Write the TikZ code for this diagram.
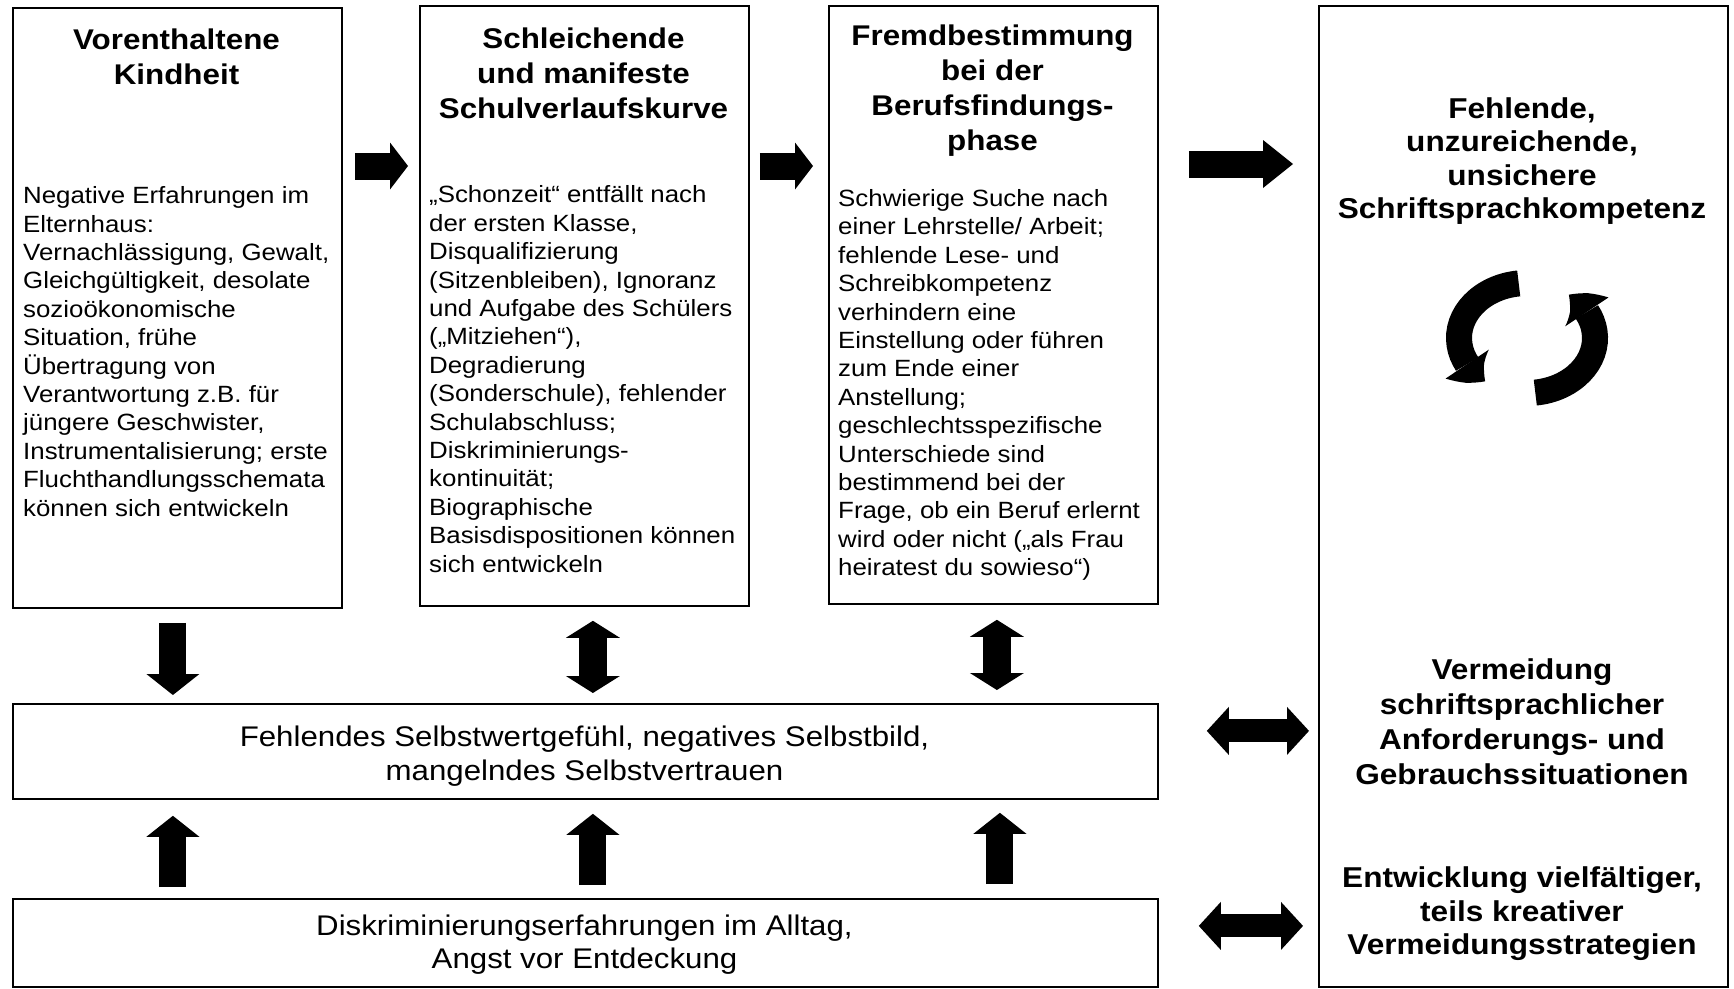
\documentclass[tikz,border=0pt]{standalone}
\usepackage{fontspec}
\setmainfont{Liberation Sans}[FakeStretch=1.1]
\usetikzlibrary{arrows.meta,bending,calc}
\begin{document}
\begin{tikzpicture}[x=1pt,y=-1pt,
  box/.style={draw=black, line width=1.8pt, inner sep=0pt, anchor=north west},
  ttl/.style={font=\bfseries\fontsize{28.5}{35}\selectfont, align=center, inner sep=0pt},
  bodytxt/.style={font=\fontsize{23.5}{28.4}\selectfont, align=left, inner sep=0pt, anchor=west},
  plaintxt/.style={font=\fontsize{28.4}{33.5}\selectfont, align=center, inner sep=0pt},
  rtxt/.style={font=\bfseries\fontsize{28.7}{34}\selectfont, align=center, inner sep=0pt},
  harr/.style={line width=27pt, -{Triangle[width=47pt,length=18pt,line width=0pt]}},
  bigharr/.style={line width=27pt, -{Triangle[width=48pt,length=30pt,line width=0pt]}},
  vsingle/.style={line width=27pt, -{Triangle[width=53pt,length=21pt,line width=0pt]}},
  vdouble/.style={line width=28pt, {Triangle[width=54pt,length=17pt,line width=0pt]}-{Triangle[width=54pt,length=17pt,line width=0pt]}},
  hdouble/.style={line width=23pt, {Triangle[width=48pt,length=22pt,line width=0pt]}-{Triangle[width=48pt,length=22pt,line width=0pt]}},
  circarr/.style={line width=26pt, -{Triangle[width=52pt,length=26pt,line width=0pt,bend]}}
]
\path[use as bounding box, fill=white] (0,0) rectangle (1734,988);

% boxes
\node[box, minimum width=329pt, minimum height=600pt] (b1) at (12,7) {};
\node[box, minimum width=329pt, minimum height=600pt] (b2) at (419,5) {};
\node[box, minimum width=329pt, minimum height=598pt] (b3) at (828,5) {};
\node[box, minimum width=409pt, minimum height=981pt] (b4) at (1318,5) {};
\node[box, minimum width=1145pt, minimum height=95pt] (mid) at (12,703) {};
\node[box, minimum width=1145pt, minimum height=88pt] (bot) at (12,898) {};

% texts
\node[ttl] (t1) at (176.5,56.5) {Vorenthaltene\\Kindheit};
\node[bodytxt] (d1) at (23,351.5) {Negative Erfahrungen im\\Elternhaus:\\Vernachlässigung, Gewalt,\\Gleichgültigkeit, desolate\\sozioökonomische\\Situation, frühe\\Übertragung von\\Verantwortung z.B. für\\jüngere Geschwister,\\Instrumentalisierung; erste\\Fluchthandlungsschemata\\können sich entwickeln};

\node[ttl] (t2) at (583.5,73) {Schleichende\\und manifeste\\Schulverlaufskurve};
\node[bodytxt] (d2) at (429,379) {„Schonzeit“ entfällt nach\\der ersten Klasse,\\Disqualifizierung\\(Sitzenbleiben), Ignoranz\\und Aufgabe des Schülers\\(„Mitziehen“),\\Degradierung\\(Sonderschule), fehlender\\Schulabschluss;\\Diskriminierungs-\\kontinuität;\\Biographische\\Basisdispositionen können\\sich entwickeln};

\node[ttl] (t3) at (992.5,91) {Fremdbestimmung\\bei der\\Berufsfindungs-\\phase};
\node[bodytxt] (d3) at (838,385) {Schwierige Suche nach\\einer Lehrstelle/ Arbeit;\\fehlende Lese- und\\Schreibkompetenz\\verhindern eine\\Einstellung oder führen\\zum Ende einer\\Anstellung;\\geschlechtsspezifische\\Unterschiede sind\\bestimmend bei der\\Frage, ob ein Beruf erlernt\\wird oder nicht („als Frau\\heiratest du sowieso“)};

\node[rtxt, font=\bfseries\fontsize{28.7}{33.3}\selectfont] (t4) at (1522,161) {Fehlende,\\unzureichende,\\unsichere\\Schriftsprachkompetenz};
\node[rtxt, font=\bfseries\fontsize{28.7}{35}\selectfont] (r1) at (1522,722) {Vermeidung\\schriftsprachlicher\\Anforderungs- und\\Gebrauchssituationen};
\node[rtxt, font=\bfseries\fontsize{28.7}{33.5}\selectfont] (r2) at (1522,914) {Entwicklung vielfältiger,\\teils kreativer\\Vermeidungsstrategien};

\node[plaintxt] (mt) at (584.5,756) {Fehlendes Selbstwertgefühl, negatives Selbstbild,\\mangelndes Selbstvertrauen};
\node[plaintxt] (bt) at (584.5,944.5) {Diskriminierungserfahrungen im Alltag,\\Angst vor Entdeckung};

% top horizontal arrows
\coordinate (row) at (0,166);
\draw[harr, shorten <=12pt, shorten >=11pt] (b1.east |- row) -- (b2.west |- row);
\draw[harr, shorten <=10pt, shorten >=15pt] (b2.east |- row) -- (b3.west |- row);
\coordinate (row2) at (0,164);
\draw[bigharr, shorten <=30pt, shorten >=25pt] (b3.east |- row2) -- (b4.west |- row2);

% vertical arrows
\coordinate (d1s) at ($(b1.south)+(-4.5,14)$);
\draw[vsingle, shorten >=8pt] (d1s) -- (d1s |- mid.north);
\coordinate (d2s) at ($(b2.south)+(8.5,14)$);
\draw[vdouble, shorten >=10pt] (d2s) -- (d2s |- mid.north);
\coordinate (d3s) at ($(b3.south)+(3.5,15)$);
\draw[vdouble, shorten >=13pt] (d3s) -- (d3s |- mid.north);

\coordinate (u1s) at ($(bot.north)+(-412.5,-11)$);
\draw[vsingle, shorten >=16pt] (u1s) -- (u1s |- mid.south);
\coordinate (u2s) at ($(bot.north)+(7.5,-13)$);
\draw[vsingle, shorten >=14pt] (u2s) -- (u2s |- mid.south);
\coordinate (u3s) at ($(bot.north)+(414.5,-14)$);
\draw[vsingle, shorten >=13pt] (u3s) -- (u3s |- mid.south);

% horizontal double arrows to right box
\coordinate (h1s) at ($(mid.east)+(48,-20.5)$);
\draw[hdouble, shorten >=9pt] (h1s) -- (h1s -| b4.west);
\coordinate (h2s) at ($(bot.east)+(40,-17)$);
\draw[hdouble, shorten >=15pt] (h2s) -- (h2s -| b4.west);

% cycle arrows
\coordinate (cyc) at (1527,338);
\draw[circarr] ([shift={(-97:68 and 55)}]cyc) arc[start angle=-97, end angle=-232, x radius=68, y radius=55];
\draw[circarr] ([shift={(-277:68 and 55)}]cyc) arc[start angle=-277, end angle=-412, x radius=68, y radius=55];
\end{tikzpicture}
\end{document}
